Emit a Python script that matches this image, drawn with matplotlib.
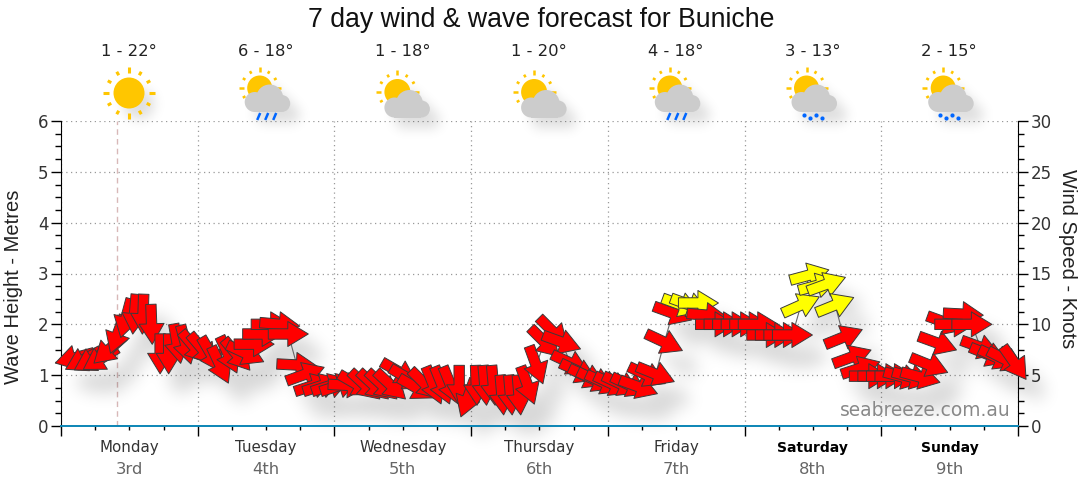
import numpy as np
import matplotlib
matplotlib.use("Agg")
import matplotlib.pyplot as plt
from matplotlib.collections import PathCollection, PatchCollection
from matplotlib.patches import Circle, Rectangle
from matplotlib.path import Path
from matplotlib.ticker import MultipleLocator
from matplotlib.transforms import Affine2D, IdentityTransform

days = ["Monday", "Tuesday", "Wednesday", "Thursday", "Friday", "Saturday", "Sunday"]
dates = ["3rd", "4th", "5th", "6th", "7th", "8th", "9th"]
temps = ["1 - 22°", "6 - 18°", "1 - 18°", "1 - 20°", "4 - 18°", "3 - 13°", "2 - 15°"]
icons = ["sun", "rain", "cloud", "cloud", "rain", "drizzle", "drizzle"]
weekend = ["Saturday", "Sunday"]

# hours after Monday 00:00, a forecast every 1.5 h
hours = np.arange(1, 112) * 1.5 + 0.9

# wave height in metres
heights = [
    1.34, 1.30, 1.30, 1.32, 1.50, 1.80, 2.12, 2.20, 2.20, 2.00,
    1.42, 1.42, 1.62, 1.60, 1.55, 1.50, 1.40, 1.20, 1.40, 1.40,
    1.43, 1.61, 1.81, 2.00, 2.00, 1.81, 1.20, 1.02, 0.80, 0.80,
    0.80, 0.80, 0.80, 0.82, 0.80, 0.80, 0.80, 0.80, 1.06, 0.94,
    0.75, 0.82, 0.80, 0.80, 0.80, 0.80, 0.55, 0.80, 0.80, 0.80,
    0.61, 0.61, 0.61, 0.80, 1.20, 1.65, 1.85, 1.65, 1.24, 1.07,
    0.97, 0.90, 0.85, 0.82, 0.82, 0.80, 0.77, 1.00, 1.02, 1.65,
    2.22, 2.38, 2.38, 2.42, 2.18, 2.00, 2.00, 2.00, 2.00, 2.00,
    2.00, 1.79, 1.79, 1.79, 1.79, 2.38, 2.97, 2.77, 2.79, 2.38,
    1.75, 1.36, 1.14, 0.98, 0.98, 0.98, 0.98, 0.96, 0.96, 0.96,
    1.20, 1.63, 2.03, 2.00, 2.20, 2.00, 1.55, 1.40, 1.34, 1.30,
    1.24,
]

# way the arrow points, degrees counter clockwise from east
directions = [
    195, 208, 210, 212, 222, 250, 255, 265, 268, 272,
    270, 270, 280, 285, 310, 310, 300, 295, 295, 310,
    335, 0, 0, 0, 355, 0, 357, 20, 18, 18,
    18, 18, 357, 330, 317, 317, 317, 317, 330, 330,
    330, 315, 292, 292, 292, 270, 250, 272, 275, 275,
    275, 275, 275, 290, 290, 315, 315, 340, 335, 335,
    335, 335, 335, 335, 335, 335, 340, 335, 338, 335,
    340, 340, 340, 0, 355, 0, 0, 0, 0, 0,
    0, 0, 0, 0, 0, 24, 15, 15, 20, 22,
    22, 20, 18, 0, 0, 0, 0, 345, 345, 345,
    338, 340, 340, 0, 357, 0, 340, 338, 335, 333,
    305,
]

# forecasts with light wind, these are drawn yellow
light_wind = [72, 73, 74, 86, 87, 88, 89, 90]


def soft_shadow(dx, dy, sigma, strength):
    # agg filter, gives a blurred grey copy moved right and down
    size = int(3 * sigma)
    kernel = np.exp(-0.5 * (np.arange(-size, size + 1) / sigma) ** 2)
    kernel /= kernel.sum()
    pad = size + max(dx, dy) + 2

    def run(im, dpi):
        alpha = np.zeros((im.shape[0] + 2 * pad, im.shape[1] + 2 * pad))
        alpha[pad:-pad, pad:-pad] = im[:, :, 3]
        alpha = np.apply_along_axis(lambda v: np.convolve(v, kernel, "same"), 0, alpha)
        alpha = np.apply_along_axis(lambda v: np.convolve(v, kernel, "same"), 1, alpha)
        alpha = np.roll(np.roll(alpha, dy, axis=0), dx, axis=1)
        out = np.zeros(alpha.shape + (4,))
        out[:, :, 3] = alpha * strength
        return out, -pad, -pad

    return run


def arrow_path(angle):
    # pixels, centred on the forecast point
    verts = [(-20, -5.2), (-0.5, -5.2), (-0.5, -12.5), (20, 0), (-0.5, 12.5), (-0.5, 5.2), (-20, 5.2), (-20, -5.2)]
    codes = [Path.MOVETO] + [Path.LINETO] * 6 + [Path.CLOSEPOLY]
    return Path(verts, codes).transformed(Affine2D().rotate_deg(angle))


def add_sun(ov, x, y, r, r1, r2, lw):
    for k in range(12):
        a = np.radians(k * 30)
        long_ray = k % 3 == 0
        start = r1 if long_ray else r1 + 0.5
        end = r2 if long_ray else r2 - 1.5
        ov.plot([x + start * np.cos(a), x + end * np.cos(a)], [y + start * np.sin(a), y + end * np.sin(a)],
                color="#FFC600", lw=lw, solid_capstyle="butt", zorder=3)
    return [Circle((x, y), r, fc="#FFC600", ec="none", zorder=4)]


def add_cloud(x, y):
    col = "#CCCCCC"
    return [Circle((x, y), 13.5, fc=col, ec="none"), Circle((x - 15, y + 4), 10, fc=col, ec="none"),
            Circle((x + 12, y + 5.5), 8.5, fc=col, ec="none"), Rectangle((x - 15, y + 4), 27, 10, fc=col, ec="none")]


fig = plt.figure(figsize=(10.8, 4.9), dpi=100)
ax = fig.add_axes([61 / 1080, 64 / 490, 957 / 1080, 305 / 490])
ax.set_xlim(0, 168)
ax.set_ylim(0, 6)

ax.xaxis.set_major_locator(MultipleLocator(24))
ax.xaxis.set_minor_locator(MultipleLocator(6))
ax.yaxis.set_major_locator(MultipleLocator(1))
ax.yaxis.set_minor_locator(MultipleLocator(0.25))
ax.grid(True, which="major", color="#999999", lw=0.9, ls=(0, (1, 2.8)))
ax.set_axisbelow(True)
ax.set_xticklabels([])
ax.tick_params(axis="x", which="major", length=7, width=1, color="black")
ax.tick_params(axis="x", which="minor", length=3, width=1, color="black")
ax.tick_params(axis="y", which="major", length=7, width=1, labelsize=12, labelcolor="#333333", pad=2)
ax.tick_params(axis="y", which="minor", length=4, width=1)
ax.spines["top"].set_visible(False)
ax.spines["right"].set_visible(False)
ax.spines["bottom"].set_color("#0B85B5")
ax.spines["bottom"].set_linewidth(1.4)

ax2 = ax.twinx()
ax2.set_ylim(0, 30)
ax2.yaxis.set_major_locator(MultipleLocator(5))
ax2.yaxis.set_minor_locator(MultipleLocator(1.25))
ax2.tick_params(axis="y", which="major", length=7, width=1, labelsize=12, labelcolor="#333333", pad=2)
ax2.tick_params(axis="y", which="minor", length=4, width=1)
for name in ["top", "left", "bottom"]:
    ax2.spines[name].set_visible(False)

# twin axis would sit on top of the arrows otherwise
ax.set_zorder(ax2.get_zorder() + 1)
ax.patch.set_visible(False)

ax.axvline(9.8, color="#D8B8B8", lw=1, ls=(0, (4, 3)), zorder=1)

paths = [arrow_path(a) for a in directions]
points = np.column_stack([hours, heights])
colours = ["#FFFF00" if i + 1 in light_wind else "#FF0000" for i in range(len(hours))]

shadow = PathCollection(paths, offsets=points, offset_transform=ax.transData, transform=IdentityTransform(),
                        facecolors="black", edgecolors="none", zorder=2, clip_on=False)
shadow.set_agg_filter(soft_shadow(9, 11, 6, 0.4))
ax.add_collection(shadow)

ax.plot(hours, heights, color="#666666", lw=0.8, zorder=3)

arrows = PathCollection(paths, offsets=points, offset_transform=ax.transData, transform=IdentityTransform(),
                        facecolors=colours, edgecolors="#3A3A3A", linewidths=0.7, zorder=4, clip_on=False)
ax.add_collection(arrows)

fig.text(541 / 1080, 1 - 20 / 490, "7 day wind & wave forecast for Buniche", ha="center", va="center",
         fontsize=19.2, family="Liberation Sans", color="#111111")
fig.text(14 / 1080, 1 - 287 / 490, "Wave Height - Metres", rotation=90, ha="center", va="center",
         fontsize=14.5, family="Liberation Sans", color="#222222")
fig.text(1068 / 1080, 1 - 259 / 490, "Wind Speed - Knots", rotation=270, ha="center", va="center",
         fontsize=14.5, family="Liberation Sans", color="#222222")
fig.text(925 / 1080, 1 - 411 / 490, "seabreeze.com.au", ha="center", va="center",
         fontsize=13.4, family="DejaVu Sans", color="#888888", zorder=6)

for k, (day, date) in enumerate(zip(days, dates)):
    mid = 24 * k + 12
    bold = day in weekend
    ax.annotate(day, xy=(mid, 0), xytext=(0, -15.5), textcoords="offset points", ha="center", va="center",
                fontsize=10.8 if not bold else 10, family="DejaVu Sans", color="black" if bold else "#333333",
                fontweight="bold" if bold else "normal", annotation_clip=False)
    ax.annotate(date, xy=(mid, 0), xytext=(0, -31), textcoords="offset points", ha="center", va="center",
                fontsize=11.8, family="DejaVu Sans", color="#666666", annotation_clip=False)

# icons and the temperatures above them, in plain figure pixels
ov = fig.add_axes([0, 0, 1, 1], zorder=5)
ov.set_xlim(0, 1080)
ov.set_ylim(490, 0)
ov.axis("off")

for k, (temp, icon) in enumerate(zip(temps, icons)):
    c = 129 + 136.7 * k
    ov.text(c, 51, temp, ha="center", va="center", fontsize=11.8, family="DejaVu Sans", color="#222222")
    if icon == "sun":
        shapes = add_sun(ov, c, 93, 15.5, 20, 26, 2.2)
    elif icon == "cloud":
        shapes = add_sun(ov, c - 5, 92, 13, 16.5, 21.5, 1.8) + add_cloud(c + 7, 103.5)
    else:
        shapes = add_sun(ov, c - 6, 88, 12.5, 16, 21, 1.8) + add_cloud(c + 4, 98)

    back = PatchCollection([s for s in shapes], facecolors="black", edgecolors="none", zorder=1)
    back.set_agg_filter(soft_shadow(10, 11, 6, 0.13))
    ov.add_collection(back)
    for n, s in enumerate(shapes):
        s.set_zorder(4 + n)
        ov.add_patch(s)

    if icon == "rain":
        for off in [-7, 1, 9]:
            ov.plot([c + off - 1.5, c + off + 1.5], [120, 113], color="#0066FF", lw=1.8, solid_capstyle="butt", zorder=8)
    if icon == "drizzle":
        ov.plot([c - 9, c - 3, c + 3, c + 9], [115, 118, 115, 118], ls="none", marker="o", ms=2, color="#0066FF", zorder=8)

fig.savefig("out.png", dpi=100)
